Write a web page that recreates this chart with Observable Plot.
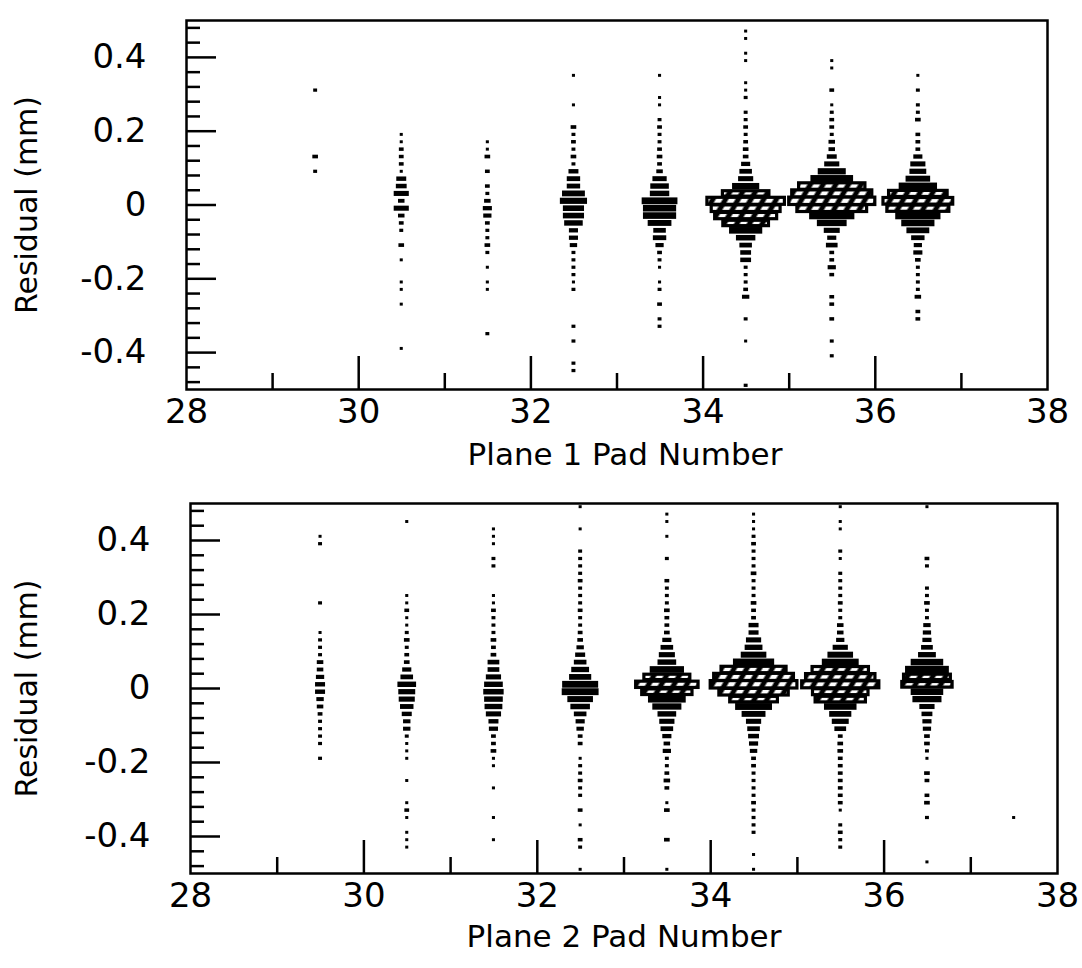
<!DOCTYPE html>
<html><head><meta charset="utf-8">
<script src="https://cdn.jsdelivr.net/npm/d3@7"></script>
<script src="https://cdn.jsdelivr.net/npm/@observablehq/plot@0.6"></script>
<style>
body{margin:0;background:#fff;width:1082px;height:968px;overflow:hidden;position:relative;font-family:"DejaVu Sans",sans-serif}
#top{position:absolute;left:0;top:0}
#bot{position:absolute;left:0;top:484px}
</style></head><body>
<div id="top"></div><div id="bot"></div>
<script>
// ---- data: [residual bin centre (mm), entries] per pad column ----
const binHeight = 0.02;
const xTickLabels = [28, 30, 32, 34, 36, 38];
const xMajorTicks = [30, 32, 34, 36];
const xMinorTicks = [29, 31, 33, 35, 37];
const yTickLabels = [-0.4, -0.2, 0, 0.2, 0.4];
const yMajorTicks = [-0.4, -0.2, 0, 0.2, 0.4];
const yMinorTicks = [-0.48, -0.44, -0.36, -0.32, -0.28, -0.24, -0.16, -0.12, -0.08, -0.04, 0.04, 0.08, 0.12, 0.16, 0.24, 0.28, 0.32, 0.36, 0.44, 0.48];

// Plane 1
const plane1_pad29 = [[0.31,2],[0.13,4],[0.09,2]];
const plane1_pad30 = [[0.19,1],[0.17,1],[0.15,3],[0.13,3],[0.11,3],[0.09,1],[0.07,9],[0.05,10],[0.03,15],[0.01,5],[-0.01,15],[-0.03,5],[-0.05,3],[-0.07,2],[-0.11,4],[-0.15,1],[-0.21,1],[-0.23,1],[-0.27,1],[-0.39,1]];
const plane1_pad31 = [[0.17,1],[0.15,1],[0.13,4],[0.09,3],[0.05,3],[0.03,2],[0.01,5],[-0.01,8],[-0.03,7],[-0.05,3],[-0.07,2],[-0.09,2],[-0.11,4],[-0.13,2],[-0.17,1],[-0.21,1],[-0.23,1],[-0.35,2]];
const plane1_pad32 = [[0.35,1],[0.27,1],[0.21,4],[0.19,2],[0.17,3],[0.15,2],[0.13,4],[0.11,2],[0.09,9],[0.07,13],[0.05,13],[0.03,24],[0.01,29],[-0.01,22],[-0.03,22],[-0.05,19],[-0.07,8],[-0.09,8],[-0.11,6],[-0.13,2],[-0.15,2],[-0.17,2],[-0.19,2],[-0.21,1],[-0.23,2],[-0.33,2],[-0.37,2],[-0.43,2],[-0.45,2]];
const plane1_pad33 = [[0.35,1],[0.29,1],[0.27,1],[0.23,2],[0.21,3],[0.19,2],[0.17,2],[0.15,3],[0.13,4],[0.11,3],[0.09,5],[0.07,14],[0.05,19],[0.03,20],[0.01,39],[-0.01,36],[-0.03,36],[-0.05,25],[-0.07,12],[-0.09,13],[-0.11,7],[-0.13,3],[-0.15,2],[-0.17,1],[-0.21,1],[-0.23,2],[-0.27,3],[-0.31,2],[-0.33,2]];
const plane1_pad34 = [[0.47,1],[0.45,1],[0.41,1],[0.39,1],[0.33,1],[0.31,1],[0.29,2],[0.25,2],[0.23,2],[0.21,3],[0.19,2],[0.17,3],[0.15,4],[0.13,4],[0.11,8],[0.09,12],[0.07,15],[0.05,29],[0.03,54],[0.01,90],[-0.01,80],[-0.03,72],[-0.05,53],[-0.07,36],[-0.09,20],[-0.11,12],[-0.13,10],[-0.15,10],[-0.17,2],[-0.19,2],[-0.21,2],[-0.23,3],[-0.25,6],[-0.31,2],[-0.37,1],[-0.49,2]];
const plane1_pad35 = [[0.39,1],[0.37,1],[0.31,3],[0.27,1],[0.25,2],[0.23,3],[0.21,3],[0.19,2],[0.17,5],[0.15,5],[0.13,9],[0.11,15],[0.09,30],[0.07,47],[0.05,77],[0.03,93],[0.01,100],[-0.01,81],[-0.03,50],[-0.05,32],[-0.07,16],[-0.09,8],[-0.11,11],[-0.13,3],[-0.15,3],[-0.17,7],[-0.19,3],[-0.25,3],[-0.27,3],[-0.31,3],[-0.37,2],[-0.41,2]];
const plane1_pad36 = [[0.35,1],[0.31,2],[0.27,2],[0.25,2],[0.23,4],[0.19,3],[0.17,3],[0.15,3],[0.13,8],[0.11,15],[0.09,17],[0.07,26],[0.05,42],[0.03,68],[0.01,81],[-0.01,72],[-0.03,50],[-0.05,36],[-0.07,24],[-0.09,13],[-0.11,7],[-0.13,8],[-0.15,4],[-0.17,2],[-0.19,2],[-0.21,2],[-0.23,2],[-0.25,5],[-0.29,3],[-0.31,3]];

// Plane 2
const plane2_pad29 = [[0.41,1],[0.39,2],[0.23,2],[0.15,1],[0.13,2],[0.11,2],[0.09,2],[0.07,5],[0.05,5],[0.03,7],[0.01,9],[-0.01,9],[-0.03,6],[-0.05,5],[-0.07,3],[-0.09,2],[-0.11,2],[-0.13,2],[-0.15,2],[-0.19,2]];
const plane2_pad30 = [[0.45,1],[0.25,1],[0.23,1],[0.21,3],[0.19,1],[0.17,1],[0.15,2],[0.13,4],[0.11,2],[0.09,3],[0.07,4],[0.05,8],[0.03,12],[0.01,19],[-0.01,17],[-0.03,16],[-0.05,13],[-0.07,9],[-0.09,6],[-0.11,6],[-0.13,2],[-0.15,1],[-0.17,1],[-0.19,1],[-0.25,1],[-0.31,1],[-0.33,3],[-0.35,1],[-0.39,1],[-0.41,1],[-0.43,1]];
const plane2_pad31 = [[0.43,1],[0.41,1],[0.39,1],[0.35,2],[0.33,2],[0.25,1],[0.23,1],[0.21,3],[0.19,2],[0.17,2],[0.15,2],[0.13,4],[0.11,3],[0.09,4],[0.07,11],[0.05,11],[0.03,15],[0.01,19],[-0.01,21],[-0.03,19],[-0.05,18],[-0.07,15],[-0.09,9],[-0.11,8],[-0.13,3],[-0.15,3],[-0.17,4],[-0.19,1],[-0.21,1],[-0.27,1],[-0.35,1],[-0.41,1]];
const plane2_pad32 = [[0.49,1],[0.43,1],[0.37,2],[0.35,2],[0.33,2],[0.31,2],[0.29,3],[0.27,2],[0.25,2],[0.23,2],[0.21,3],[0.19,2],[0.17,2],[0.15,3],[0.13,4],[0.11,6],[0.09,9],[0.07,12],[0.05,18],[0.03,23],[0.01,39],[-0.01,40],[-0.03,27],[-0.05,20],[-0.07,12],[-0.09,8],[-0.11,6],[-0.13,3],[-0.15,3],[-0.19,1],[-0.21,2],[-0.23,2],[-0.25,3],[-0.27,2],[-0.29,2],[-0.33,3],[-0.37,1],[-0.41,3],[-0.43,2],[-0.49,1]];
const plane2_pad33 = [[0.47,1],[0.45,1],[0.41,1],[0.35,2],[0.29,3],[0.27,2],[0.25,2],[0.23,2],[0.21,4],[0.19,3],[0.17,3],[0.15,4],[0.13,8],[0.11,12],[0.09,16],[0.07,19],[0.05,37],[0.03,53],[0.01,72],[-0.01,58],[-0.03,41],[-0.05,31],[-0.07,19],[-0.09,15],[-0.11,12],[-0.13,8],[-0.15,5],[-0.17,7],[-0.19,2],[-0.21,2],[-0.23,3],[-0.25,5],[-0.27,3],[-0.31,1],[-0.33,4],[-0.41,4],[-0.49,1]];
const plane2_pad34 = [[0.47,1],[0.45,1],[0.43,1],[0.41,2],[0.39,3],[0.37,2],[0.35,2],[0.33,2],[0.31,4],[0.29,2],[0.27,2],[0.25,2],[0.23,4],[0.21,3],[0.19,3],[0.17,9],[0.15,9],[0.13,15],[0.11,18],[0.09,27],[0.07,45],[0.05,75],[0.03,92],[0.01,100],[-0.01,80],[-0.03,55],[-0.05,40],[-0.07,25],[-0.09,15],[-0.11,12],[-0.13,10],[-0.15,8],[-0.17,6],[-0.19,3],[-0.21,3],[-0.23,2],[-0.25,2],[-0.27,2],[-0.29,2],[-0.31,3],[-0.33,2],[-0.35,2],[-0.37,2],[-0.39,2],[-0.45,1],[-0.49,1]];
const plane2_pad35 = [[0.49,1],[0.45,1],[0.43,1],[0.37,2],[0.35,1],[0.31,2],[0.29,2],[0.27,2],[0.25,2],[0.23,3],[0.21,2],[0.19,2],[0.17,5],[0.15,5],[0.13,7],[0.11,15],[0.09,27],[0.07,40],[0.05,65],[0.03,80],[0.01,89],[-0.01,64],[-0.03,58],[-0.05,35],[-0.07,23],[-0.09,17],[-0.11,11],[-0.13,3],[-0.15,4],[-0.17,4],[-0.19,3],[-0.21,3],[-0.23,3],[-0.25,3],[-0.27,3],[-0.29,3],[-0.31,3],[-0.33,1],[-0.37,2],[-0.39,3],[-0.41,2],[-0.43,2]];
const plane2_pad36 = [[0.49,1],[0.35,3],[0.33,2],[0.27,2],[0.25,2],[0.23,4],[0.21,2],[0.19,2],[0.17,6],[0.15,7],[0.13,8],[0.11,11],[0.09,18],[0.07,35],[0.05,48],[0.03,54],[0.01,58],[-0.01,35],[-0.03,31],[-0.05,15],[-0.07,10],[-0.09,8],[-0.11,7],[-0.13,4],[-0.15,4],[-0.17,2],[-0.19,1],[-0.23,4],[-0.25,3],[-0.29,3],[-0.31,4],[-0.35,2],[-0.47,1]];
const plane2_pad37 = [[-0.35,1]];

const plane1Columns = [[29, plane1_pad29],[30, plane1_pad30],[31, plane1_pad31],[32, plane1_pad32],[33, plane1_pad33],[34, plane1_pad34],[35, plane1_pad35],[36, plane1_pad36]];
const plane2Columns = [[29, plane2_pad29],[30, plane2_pad30],[31, plane2_pad31],[32, plane2_pad32],[33, plane2_pad33],[34, plane2_pad34],[35, plane2_pad35],[36, plane2_pad36],[37, plane2_pad37]];

const fmt = d => d === 0 ? "0" : d.toFixed(1);
const FONT = '"DejaVu Sans", sans-serif';

function panel(columns, cfg) {
  const rows = columns.flatMap(([pad, list]) => list.map(([y, n]) => ({pad, y, n})));
  const max = d3.max(rows, d => d.n);
  rows.forEach(d => { d.f = d.n / max; d.h = binHeight * Math.sqrt(d.f); });
  const big = rows.filter(d => d.f > 0.5), small = rows.filter(d => d.f <= 0.5);
  const W = 1082, H = 484;
  const innerH = H - cfg.mt - cfg.mb, innerW = W - cfg.ml - cfg.mr;
  const box = (data, fill, sw) => Plot.rect(data, {
    x1: d => d.pad + 0.5 - d.f / 2, x2: d => d.pad + 0.5 + d.f / 2,
    y1: d => d.y - d.h / 2, y2: d => d.y + d.h / 2,
    fill, stroke: "black", strokeWidth: sw
  });
  const svg = Plot.plot({
    width: W, height: H,
    marginTop: cfg.mt, marginBottom: cfg.mb, marginLeft: cfg.ml, marginRight: cfg.mr,
    style: {fontFamily: FONT, background: "white", color: "black"},
    x: {domain: [28, 38], axis: null},
    y: {domain: [-0.5, 0.5], axis: null},
    marks: [
      box(small, "black", 2.2),
      box(big, `url(#${cfg.id})`, 3.2),
      Plot.tickX(xMajorTicks, {x: d => d, insetTop: innerH - 33, stroke: "black", strokeWidth: 2.5}),
      Plot.tickX(xMinorTicks, {x: d => d, insetTop: innerH - 16, stroke: "black", strokeWidth: 2.5}),
      Plot.tickY(yMajorTicks, {y: d => d, insetRight: innerW - 30, stroke: "black", strokeWidth: 2.5}),
      Plot.tickY(yMinorTicks, {y: d => d, insetRight: innerW - 14, stroke: "black", strokeWidth: 2.5}),
      Plot.frame({stroke: "black", strokeWidth: 2.5}),
      Plot.axisX({ticks: xTickLabels, tickSize: 0, tickPadding: 9, tickFormat: d => String(d), fontSize: 34, label: null}),
      Plot.axisY({ticks: yTickLabels, tickSize: 0, tickPadding: cfg.yPad, tickFormat: fmt, fontSize: 34, label: null}),
      Plot.text([cfg.xLabel], {frameAnchor: "bottom", dx: cfg.xLabelDx, dy: cfg.xLabelDy, lineAnchor: "middle", textAnchor: "middle", fontSize: 31, text: d => d}),
      Plot.text(["Residual (mm)"], {frameAnchor: "left", dx: -cfg.yLabelDx, rotate: -90, textAnchor: "middle", lineAnchor: "middle", fontSize: 30, text: d => d})
    ]
  });
  const defs = d3.select(svg).insert("defs", ":first-child");
  const p = defs.append("pattern").attr("id", cfg.id).attr("patternUnits", "userSpaceOnUse")
    .attr("width", 11).attr("height", 11).attr("patternTransform", "rotate(30)");
  p.append("rect").attr("width", 11).attr("height", 11).attr("fill", "black");
  p.append("rect").attr("x", 4.5).attr("width", 6).attr("height", 11).attr("fill", "white");
  return svg;
}

document.getElementById("top").append(panel(plane1Columns, {id: "hatch1", mt: 20, mb: 95, ml: 186, mr: 35, yPad: 40, xLabel: "Plane 1 Pad Number", xLabelDx: 8, xLabelDy: 66, yLabelDx: 159}));
document.getElementById("bot").append(panel(plane2Columns, {id: "hatch2", mt: 19, mb: 95, ml: 190, mr: 25, yPad: 40, xLabel: "Plane 2 Pad Number", xLabelDx: 0, xLabelDy: 64, yLabelDx: 163}));
</script>
</body></html>
